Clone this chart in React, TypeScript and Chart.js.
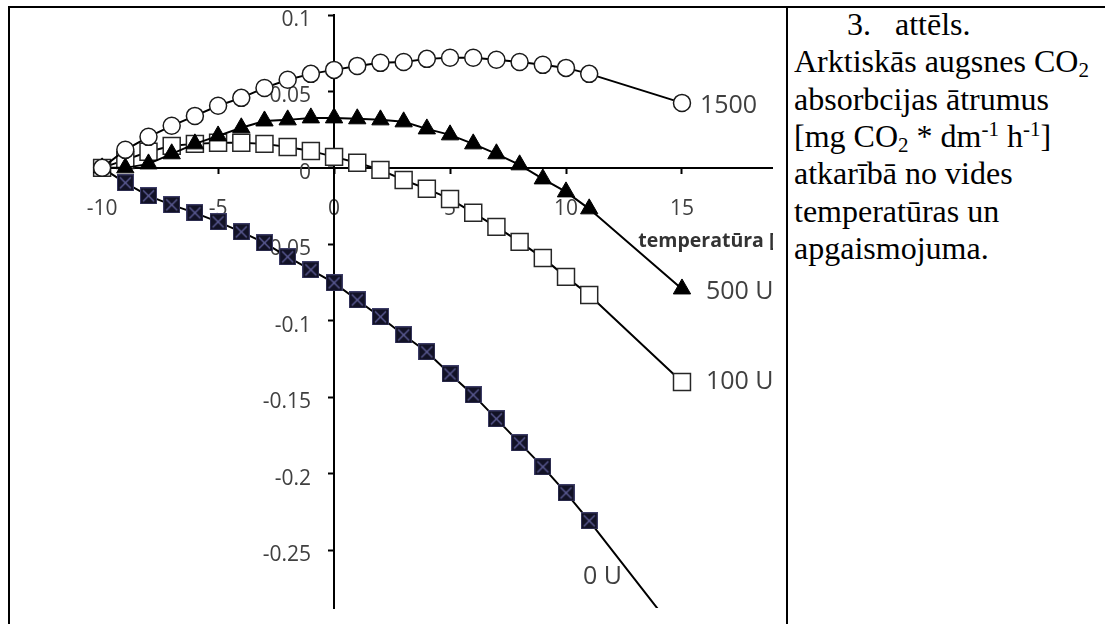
import React, { useEffect, useRef } from 'react';
import { Chart, registerables } from 'chart.js';

Chart.register(...registerables);

// ---- data ----
const temperatures = [-10, -9, -8, -7, -6, -5, -4, -3, -2, -1, 0, 1, 2, 3, 4, 5, 6, 7, 8, 9, 10, 11, 15];
const light1500 = [0, 0.0118, 0.0203, 0.0275, 0.034, 0.0406, 0.0458, 0.0523, 0.0576, 0.0615, 0.0641, 0.0667, 0.0687, 0.0693, 0.0713, 0.072, 0.072, 0.0707, 0.0693, 0.0674, 0.0654, 0.0615, 0.0425];
const light500 = [0, 0, 0.0026, 0.0092, 0.0157, 0.0209, 0.0262, 0.0307, 0.0314, 0.0327, 0.0327, 0.0321, 0.0314, 0.0301, 0.0255, 0.0216, 0.0157, 0.0092, 0.002, -0.0072, -0.0157, -0.0268, -0.0792];
const light100 = [0, 0.0052, 0.0105, 0.0144, 0.0157, 0.0164, 0.0164, 0.0157, 0.0137, 0.0111, 0.0072, 0.0033, -0.0013, -0.0079, -0.0137, -0.0203, -0.0294, -0.0386, -0.0484, -0.0589, -0.0713, -0.0831, -0.14];
const light0 = [0, -0.0098, -0.0183, -0.0242, -0.0294, -0.0353, -0.0419, -0.0491, -0.0582, -0.0667, -0.0752, -0.0864, -0.0975, -0.1093, -0.1204, -0.1348, -0.1485, -0.1642, -0.1799, -0.1956, -0.2126, -0.2309, -0.3088];
const seriesLabels = ['1500', '500 U', '100 U', '0 U'];
const xAxisTitle = 'temperatūra [°C]';
const xRange = [-10.35, 20.2];
const yRange = [-0.2879, 0.1];
const xStep = 5;
const yStep = 0.05;

const captionLines = [
  'Arktiskās augsnes CO|2|',
  'absorbcijas ātrumus',
  '[mg CO|2| * dm^-1^ h^-1^]',
  'atkarībā no vides',
  'temperatūras un',
  'apgaismojuma.',
];

const TEXT = '#404040';
const SANS = '"Open Sans", "DejaVu Sans", sans-serif';

function makeCrossSquare(size: number): HTMLCanvasElement {
  const c = document.createElement('canvas');
  c.width = size;
  c.height = size;
  const g = c.getContext('2d')!;
  g.fillStyle = '#121226';
  g.fillRect(0, 0, size, size);
  g.strokeStyle = '#3c3c66';
  g.lineWidth = 1;
  g.strokeRect(0.5, 0.5, size - 1, size - 1);
  g.strokeStyle = '#5e5e98';
  g.lineWidth = 1.4;
  g.beginPath();
  g.moveTo(3, 3);
  g.lineTo(size - 3, size - 3);
  g.moveTo(size - 3, 3);
  g.lineTo(3, size - 3);
  g.stroke();
  return c;
}

function fmt(v: number): string {
  return String(Number(v.toFixed(3)));
}

const labelOffsets: [number, number][] = [
  [18, 3],
  [24, 3],
  [24, 0],
  [-99, -63],
];

const textPlugin = {
  id: 'texts',
  beforeDatasetsDraw(chart: any) {
    const { ctx } = chart;
    const x = chart.scales.x;
    const y = chart.scales.y;
    const axisX = x.getPixelForValue(0);
    ctx.save();
    ctx.font = `21px ${SANS}`;
    ctx.fillStyle = TEXT;
    ctx.textAlign = 'right';
    ctx.textBaseline = 'middle';
    y.ticks.forEach((t: any) => {
      ctx.fillText(fmt(t.value), axisX - 23, y.getPixelForValue(t.value) + 5);
    });
    ctx.restore();
  },
  afterDatasetsDraw(chart: any) {
    const { ctx } = chart;
    ctx.save();
    ctx.font = `25px ${SANS}`;
    ctx.fillStyle = TEXT;
    ctx.textAlign = 'left';
    ctx.textBaseline = 'middle';
    chart.data.datasets.forEach((ds: any, i: number) => {
      const meta = chart.getDatasetMeta(i);
      const pt = meta.data[meta.data.length - 1];
      const [dx, dy] = labelOffsets[i];
      ctx.fillText(seriesLabels[i], pt.x + dx, pt.y + dy);
    });
    ctx.restore();
  },
};

function renderCaption(line: string) {
  // |x| = subscript, ^x^ = superscript
  const parts: React.ReactNode[] = [];
  const re = /(\|[^|]+\||\^[^^]+\^)/g;
  let last = 0;
  let m: RegExpExecArray | null;
  let k = 0;
  while ((m = re.exec(line))) {
    if (m.index > last) parts.push(line.slice(last, m.index));
    const tok = m[0];
    const inner = tok.slice(1, -1);
    if (tok[0] === '|') {
      parts.push(
        <span key={k++} style={{ fontSize: 21, verticalAlign: -5, lineHeight: 0 }}>{inner}</span>
      );
    } else {
      parts.push(
        <span key={k++} style={{ fontSize: 21, verticalAlign: 11, lineHeight: 0 }}>{inner}</span>
      );
    }
    last = m.index + tok.length;
  }
  if (last < line.length) parts.push(line.slice(last));
  return parts;
}

export default function App() {
  const ref = useRef<HTMLCanvasElement>(null);

  useEffect(() => {
    const canvas = ref.current!;
    const crossSquare = makeCrossSquare(17);
    const pts = (vals: number[]) => temperatures.map((t, i) => ({ x: t, y: vals[i] }));
    const clip = { left: 14, top: 14, right: 14, bottom: 0 } as any;

    const chart = new Chart(canvas, {
      type: 'line',
      data: {
        datasets: [
          {
            label: seriesLabels[0],
            data: pts(light1500),
            borderColor: '#000',
            borderWidth: 2,
            pointStyle: 'circle',
            pointRadius: 8.5,
            pointBackgroundColor: '#fff',
            pointBorderColor: '#1a1a1a',
            pointBorderWidth: 1.5,
            order: 0,
            clip,
          },
          {
            label: seriesLabels[1],
            data: pts(light500),
            borderColor: '#000',
            borderWidth: 2,
            pointStyle: 'triangle',
            pointRadius: 10,
            pointBackgroundColor: '#000',
            pointBorderColor: '#000',
            pointBorderWidth: 1,
            order: 1,
            clip,
          },
          {
            label: seriesLabels[2],
            data: pts(light100),
            borderColor: '#000',
            borderWidth: 2,
            pointStyle: 'rect',
            pointRadius: 12,
            pointBackgroundColor: '#fff',
            pointBorderColor: '#262626',
            pointBorderWidth: 1.5,
            order: 2,
            clip,
          },
          {
            label: seriesLabels[3],
            data: pts(light0),
            borderColor: '#000',
            borderWidth: 2,
            pointStyle: crossSquare as any,
            pointRadius: 8.5,
            order: 3,
            clip,
          },
        ],
      },
      options: {
        animation: false,
        responsive: false,
        devicePixelRatio: 1,
        layout: { padding: { left: 94, top: 15, right: 97.4, bottom: 52 } },
        plugins: {
          legend: { display: false },
          tooltip: { enabled: false },
        },
        scales: {
          x: {
            type: 'linear',
            position: { y: 0 } as any,
            min: xRange[0],
            max: xRange[1],
            ticks: {
              stepSize: xStep,
              includeBounds: false,
              color: TEXT,
              font: { family: SANS, size: 21 },
              padding: 24,
              maxRotation: 0,
              autoSkip: false,
              callback: (v: any) => fmt(Number(v)),
            },
            grid: { drawOnChartArea: false, drawTicks: true, tickLength: 5, tickColor: '#000', tickWidth: 2 },
            border: { color: '#000', width: 2 },
            title: {
              display: true,
              text: xAxisTitle,
              align: 'end',
              color: '#333',
              font: { family: SANS, size: 19.5, weight: 'bold' },
              padding: { top: -16, bottom: 0 },
            },
          },
          y: {
            type: 'linear',
            position: { x: 0 } as any,
            min: yRange[0],
            max: yRange[1],
            ticks: {
              stepSize: yStep,
              includeBounds: false,
              display: false,
            },
            grid: { drawOnChartArea: false, drawTicks: true, tickLength: 5, tickColor: '#000', tickWidth: 2 },
            border: { color: '#000', width: 2 },
          },
        },
      },
      plugins: [textPlugin],
    });
    return () => chart.destroy();
  }, []);

  const serif: React.CSSProperties = {
    position: 'absolute',
    fontFamily: '"Liberation Serif", "Times New Roman", serif',
    fontSize: 32,
    lineHeight: '37px',
    color: '#000',
    whiteSpace: 'nowrap',
  };

  return (
    <div style={{ position: 'absolute', left: 0, top: 0, width: 1105, height: 624, overflow: 'hidden', background: '#fff' }}>
      <div style={{ position: 'absolute', left: 8, top: 6, width: 1097, height: 2, background: '#000' }} />
      <div style={{ position: 'absolute', left: 8, top: 6, width: 2, height: 618, background: '#000' }} />
      <div style={{ position: 'absolute', left: 786, top: 6, width: 2, height: 618, background: '#000' }} />
      <div style={{ position: 'absolute', left: 10, top: 8, width: 763, height: 616, overflow: 'hidden' }}>
        <canvas
          ref={ref}
          width={900}
          height={660}
          style={{ position: 'absolute', left: -10, top: -8, width: 900, height: 660 }}
        />
      </div>
      <div style={{ ...serif, left: 847, top: 6 }}>3.</div>
      <div style={{ ...serif, left: 895, top: 6 }}>attēls.</div>
      {captionLines.map((line, i) => (
        <div key={i} style={{ ...serif, left: 794, top: Math.round(6 + 37.3 * (i + 1)) }}>
          {renderCaption(line)}
        </div>
      ))}
    </div>
  );
}
